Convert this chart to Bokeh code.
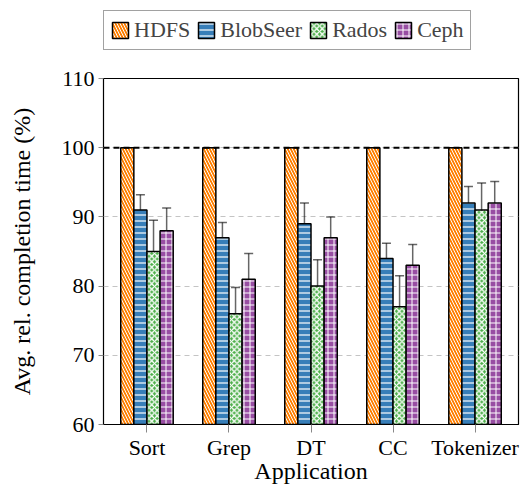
from bokeh.plotting import figure
from bokeh.layouts import column
from bokeh.models import (FactorRange, Range1d, ColumnDataSource, Whisker, TeeHead, Span,
                          Legend, LegendItem, FixedTicker, Label)
from bokeh.transform import dodge
from bokeh.embed import file_html
from bokeh.resources import INLINE

apps = ["Sort", "Grep", "DT", "CC", "Tokenizer"]
systems = ["HDFS", "BlobSeer", "Rados", "Ceph"]
hdfs = [100, 100, 100, 100, 100]
blobseer = [91, 87, 89, 84, 92]
rados = [85, 76, 80, 77, 91]
ceph = [88, 81, 87, 83, 92]
blobseer_err = [2.2, 2.2, 3.0, 2.2, 2.4]
rados_err = [4.5, 3.8, 3.8, 4.5, 3.9]
ceph_err = [3.3, 3.7, 3.0, 3.0, 3.1]
y_ticks = [60, 70, 80, 90, 100, 110]

FONT = "Liberation Serif"
FS = "22px"
FS_LABEL = "24px"
WIDTH = 521

src = ColumnDataSource(dict(app=apps, hdfs=hdfs, blobseer=blobseer, rados=rados, ceph=ceph,
                            b_lo=[v - e for v, e in zip(blobseer, blobseer_err)],
                            b_hi=[v + e for v, e in zip(blobseer, blobseer_err)],
                            r_lo=[v - e for v, e in zip(rados, rados_err)],
                            r_hi=[v + e for v, e in zip(rados, rados_err)],
                            c_lo=[v - e for v, e in zip(ceph, ceph_err)],
                            c_hi=[v + e for v, e in zip(ceph, ceph_err)]))

W = 0.16
offs = [-1.5 * W, -0.5 * W, 0.5 * W, 1.5 * W]
cols = ["hdfs", "blobseer", "rados", "ceph"]
colors = ["#ff7f00", "#377eb8", "#4daf4a", "#984ea3"]
hatches = ["\\", "-", "x", "+"]
scales = [6, 6, 5.5, 6]
weights = [1.0, 1.2, 1.3, 1.0]


def style(c, h, s, wgt):
    return dict(fill_color=c, line_color="black", line_width=1.5,
                hatch_pattern=h, hatch_color="white", hatch_scale=s, hatch_weight=wgt)


# ---------- main plot ----------
p = figure(x_range=FactorRange(*apps, range_padding=0.012), y_range=(60, 110),
           width=WIDTH, height=431, output_backend="svg", toolbar_location=None,
           min_border_left=103, min_border_right=3, min_border_top=23, min_border_bottom=60)

for col, off, c, h, s, wgt in zip(cols, offs, colors, hatches, scales, weights):
    p.vbar(x=dodge("app", off, range=p.x_range), top=col, bottom=60, width=W, source=src,
           **style(c, h, s, wgt))

for off, lo, hi in zip(offs[1:], ["b_lo", "r_lo", "c_lo"], ["b_hi", "r_hi", "c_hi"]):
    w = Whisker(base=dodge("app", off, range=p.x_range), lower=lo, upper=hi, source=src,
                line_color="black", line_alpha=0.6, line_width=1.5,
                upper_head=TeeHead(size=9, line_color="black", line_alpha=0.6, line_width=1.5),
                lower_head=TeeHead(size=9, line_color="black", line_alpha=0.6, line_width=1.5))
    p.add_layout(w)

p.add_layout(Span(location=100, dimension="width", line_color="black", line_width=2,
                  line_dash="6 4"))

p.yaxis.ticker = FixedTicker(ticks=y_ticks)
p.yaxis.axis_label = "Avg. rel. completion time (%)"
p.xaxis.axis_label = "Application"
for ax in (p.xaxis, p.yaxis):
    ax.axis_label_text_font = FONT
    ax.axis_label_text_font_size = FS_LABEL
    ax.axis_label_text_font_style = "normal"
    ax.major_label_text_font = FONT
    ax.major_label_text_font_size = FS
    ax.major_label_text_color = "black"
    ax.axis_label_text_color = "black"
    ax.axis_line_color = "black"
    ax.major_tick_line_color = "#888888"
    ax.minor_tick_line_color = None
    ax.major_tick_in = 0
p.xaxis.major_tick_out = 8
p.yaxis.major_tick_out = 5
p.xaxis.axis_label_standoff = -5
p.xaxis.major_label_standoff = 2
p.yaxis.major_label_standoff = 4
p.yaxis.axis_label_standoff = 24
p.xgrid.grid_line_color = None
p.ygrid.grid_line_color = "#c4c4c4"
p.ygrid.grid_line_dash = "5 4"
p.ygrid.grid_line_width = 1.2
p.outline_line_color = "black"
p.outline_line_width = 1.2

# ---------- legend strip ----------
lg = figure(x_range=FactorRange(*apps), y_range=Range1d(0, 1),
            width=WIDTH, height=55, output_backend="svg", toolbar_location=None,
            min_border_left=103, min_border_top=10, min_border_right=0, min_border_bottom=0,
            x_axis_type=None, y_axis_type=None)
lg.outline_line_color = None
lg.grid.grid_line_color = None
lrend = []
for col, off, c, h, s, wgt in zip(cols, offs, colors, hatches, scales, weights):
    r = lg.vbar(x=dodge("app", off, range=lg.x_range), top=col, bottom=60, width=W, source=src,
                visible=False, **style(c, h, s, wgt))
    lrend.append(r)

# a blank text in the same face, so that the strip loads the serif font too
lg.add_layout(Label(x=0, y=0, x_units="screen", y_units="screen", text=" ",
                    text_font=FONT, text_font_size=FS))

legend = Legend(items=[LegendItem(label=s, renderers=[r]) for s, r in zip(systems, lrend)],
                orientation="horizontal", location="top_left", click_policy="none",
                label_text_font=FONT, label_text_font_size=FS, label_height=20,
                glyph_width=20, glyph_height=20, spacing=6, label_standoff=4,
                border_line_color="#444444", border_line_width=1.2, padding=6, margin=0)
lg.add_layout(legend, "center")

layout = column(lg, p, spacing=0)
open("out.html", "w").write(file_html(layout, INLINE))
